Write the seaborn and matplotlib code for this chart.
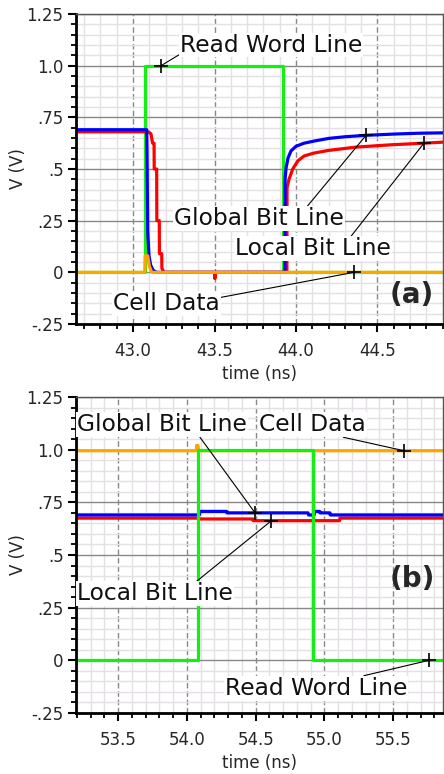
import matplotlib
matplotlib.use("Agg")
import matplotlib.pyplot as plt
import seaborn as sns
import pandas as pd
from matplotlib.ticker import MultipleLocator, FixedLocator, FixedFormatter

# ---------------- panel (a): read of a stored 0 ----------------
a_t_wl = [42.65, 43.073, 43.073, 43.92, 43.92, 44.905]
a_v_wl = [0.0, 0.0, 1.0, 1.0, 0.0, 0.0]

a_t_gbl = [42.65, 43.084, 43.086, 43.09, 43.098, 43.108, 43.123, 43.145,
           43.932, 43.933, 43.939, 43.951, 43.969, 44.0, 44.05, 44.11,
           44.2, 44.3, 44.43, 44.6, 44.75, 44.905]
a_v_gbl = [0.69, 0.69, 0.56, 0.20, 0.08, 0.035, 0.01, 0.0,
           0.0, 0.45, 0.505, 0.553, 0.587, 0.61, 0.625, 0.635,
           0.648, 0.656, 0.663, 0.669, 0.673, 0.675]

a_t_lbl = [42.65, 43.094, 43.11, 43.12, 43.129, 43.13, 43.145, 43.146,
           43.161, 43.162, 43.176, 43.177, 43.19, 43.5, 43.502, 43.506,
           43.944, 43.945, 43.957, 43.98, 44.012, 44.05, 44.11, 44.2,
           44.37, 44.58, 44.785, 44.905]
a_v_lbl = [0.68, 0.68, 0.67, 0.625, 0.625, 0.5, 0.5, 0.25,
           0.25, 0.09, 0.09, 0.02, 0.0, 0.0, -0.03, 0.0,
           0.0, 0.41, 0.45, 0.5, 0.54, 0.563, 0.577, 0.59,
           0.606, 0.617, 0.625, 0.63]

a_t_cell = [42.65, 43.072, 43.074, 43.09, 43.10, 43.115, 44.905]
a_v_cell = [0.0, 0.0, 0.08, 0.08, 0.03, 0.0, 0.0]

# ---------------- panel (b): read of a stored 1 ----------------
b_t_wl = [53.193, 54.082, 54.082, 54.919, 54.919, 55.862]
b_v_wl = [0.0, 0.0, 1.0, 1.0, 0.0, 0.0]

b_t_gbl = [53.193, 54.09, 54.095, 54.289, 54.29, 54.88, 54.885, 54.925,
           54.93, 54.965, 54.967, 55.04, 55.042, 55.862]
b_v_gbl = [0.69, 0.69, 0.707, 0.707, 0.70, 0.70, 0.69, 0.69,
           0.707, 0.707, 0.70, 0.70, 0.69, 0.69]

b_t_lbl = [53.193, 54.085, 54.09, 54.48, 54.482, 55.11, 55.112, 55.862]
b_v_lbl = [0.675, 0.675, 0.671, 0.671, 0.663, 0.663, 0.675, 0.675]

b_t_cell = [53.193, 54.068, 54.07, 54.08, 54.085, 55.862]
b_v_cell = [0.995, 0.995, 1.02, 1.02, 0.995, 0.995]

# callout targets (time, voltage) and label anchors
a_labels = ["Read Word Line", "Global Bit Line", "Local Bit Line", "Cell Data"]
a_marks_t = [43.172, 44.43, 44.785, 44.356]
a_marks_v = [1.0, 0.663, 0.625, 0.0]
a_text_t = [43.288, 43.252, 43.626, 42.877]
a_text_v = [1.10, 0.26, 0.115, -0.15]
a_relpos = [(0.0, 0.1), (0.78, 1.0), (0.74, 1.0), (1.0, 0.75)]

b_labels = ["Global Bit Line", "Cell Data", "Local Bit Line", "Read Word Line"]
b_marks_t = [54.495, 55.578, 54.609, 55.76]
b_marks_v = [0.70, 0.995, 0.66, 0.0]
b_text_t = [53.20, 54.524, 53.20, 54.276]
b_text_v = [1.118, 1.118, 0.316, -0.132]
b_relpos = [(0.72, 0.0), (0.75, 0.0), (0.76, 1.0), (0.74, 1.0)]

y_ticks = [-0.25, 0.0, 0.25, 0.5, 0.75, 1.0, 1.25]
y_ticklabels = ["-.25", "0", ".25", ".5", ".75", "1.0", "1.25"]
a_xticks = [43.0, 43.5, 44.0, 44.5]
b_xticks = [53.5, 54.0, 54.5, 55.0, 55.5]

GREEN = "#11f011"
BLUE = "#0000ff"
RED = "#ff0000"
ORANGE = "#ffa500"

sns.set_style("white")
plt.rcParams["font.family"] = ["DejaVu Sans"]

fig = plt.figure(figsize=(4.44, 7.74), dpi=100)
ax_a = fig.add_axes([76 / 444, 1 - 324 / 774, 367 / 444, 310 / 774])
ax_b = fig.add_axes([76 / 444, 1 - 713 / 774, 367 / 444, 316 / 774])


def trace(ax, t, v, color, z):
    df = pd.DataFrame({"t": t, "v": v})
    sns.lineplot(data=df, x="t", y="v", ax=ax, color=color, lw=2.3,
                 sort=False, estimator=None, zorder=z, legend=False)


def style_axes(ax, xlim, xticks, panel_tag, tag_pos):
    ax.set_xlim(*xlim)
    ax.set_ylim(-0.25, 1.25)
    ax.xaxis.set_major_locator(FixedLocator(xticks))
    ax.set_xticklabels([f"{x:.1f}" for x in xticks])
    ax.xaxis.set_minor_locator(MultipleLocator(0.1))
    ax.yaxis.set_major_locator(FixedLocator(y_ticks))
    ax.yaxis.set_major_formatter(FixedFormatter(y_ticklabels))
    ax.yaxis.set_minor_locator(MultipleLocator(0.05))
    ax.set_axisbelow(True)
    ax.grid(which="minor", color="#e5e0e5", lw=1.0)
    ax.grid(which="major", axis="y", color="#888888", lw=1.0, ls="-")
    ax.grid(which="major", axis="x", color="#888888", lw=1.0, ls=(0, (4, 2)))
    ax.tick_params(axis="x", which="major", pad=7)
    ax.tick_params(axis="y", which="major", pad=3)
    ax.tick_params(which="major", direction="out", length=6, width=1.5,
                   labelsize=12, color="black", left=True, bottom=True)
    ax.tick_params(which="minor", direction="out", length=3.5, width=1.3,
                   color="black", left=True, bottom=True)
    for side in ("left", "bottom"):
        ax.spines[side].set_color("black")
        ax.spines[side].set_linewidth(2.0)
    for side in ("top", "right"):
        ax.spines[side].set_color("#555555")
        ax.spines[side].set_linewidth(1.0)
    ax.set_xlabel("time (ns)", fontsize=12, labelpad=3.5)
    ax.set_ylabel("V (V)", fontsize=12, labelpad=0)
    ax.text(tag_pos[0], tag_pos[1], panel_tag, fontsize=20, fontweight="bold",
            ha="center", va="center", zorder=6)


def callouts(ax, labels, mt, mv, tt, tv, rel):
    for lab, x, y, x0, y0, rp in zip(labels, mt, mv, tt, tv, rel):
        ax.annotate(lab, xy=(x, y), xytext=(x0, y0), textcoords="data",
                    ha="left", va="center", fontsize=16.8, zorder=5,
                    color="#111111",
                    bbox=dict(boxstyle="square,pad=0.04", fc="white", ec="none"),
                    arrowprops=dict(arrowstyle="-", lw=0.8, color="black",
                                    relpos=rp, shrinkA=0, shrinkB=0))
        ax.plot([x], [y], marker="+", ms=10, mew=1.2, color="black", zorder=6)


# panel (a)
trace(ax_a, a_t_wl, a_v_wl, GREEN, 2.0)
trace(ax_a, a_t_lbl, a_v_lbl, RED, 2.1)
trace(ax_a, a_t_gbl, a_v_gbl, BLUE, 2.2)
trace(ax_a, a_t_cell, a_v_cell, ORANGE, 2.3)
style_axes(ax_a, (42.65, 44.902), a_xticks, "(a)", (44.712, -0.11))
callouts(ax_a, a_labels, a_marks_t, a_marks_v, a_text_t, a_text_v, a_relpos)

# panel (b)
trace(ax_b, b_t_cell, b_v_cell, ORANGE, 2.0)
trace(ax_b, b_t_lbl, b_v_lbl, RED, 2.1)
trace(ax_b, b_t_gbl, b_v_gbl, BLUE, 2.2)
trace(ax_b, b_t_wl, b_v_wl, GREEN, 2.3)
style_axes(ax_b, (53.193, 55.862), b_xticks, "(b)", (55.636, 0.387))
callouts(ax_b, b_labels, b_marks_t, b_marks_v, b_text_t, b_text_v, b_relpos)

fig.savefig("out.png", dpi=100)
